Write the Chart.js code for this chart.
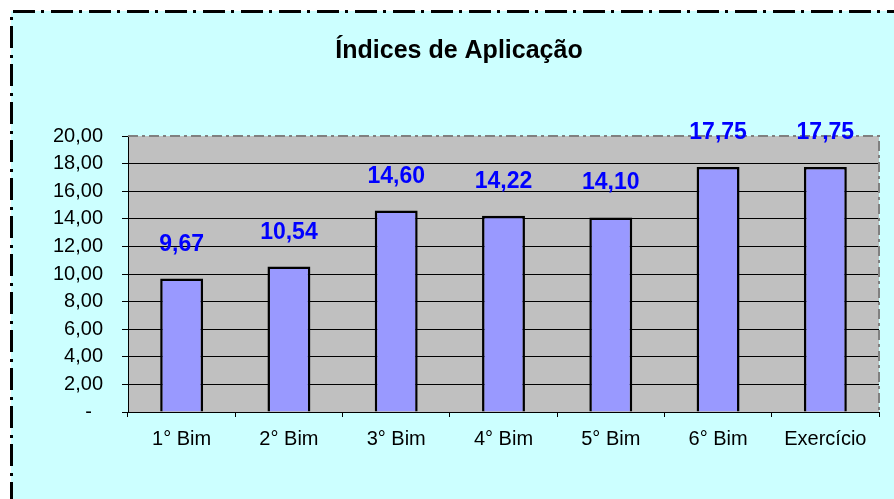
<!DOCTYPE html>
<html lang="pt">
<head>
  <meta charset="UTF-8">
  <title>Índices de Aplicação</title>
  <style>
    body { margin: 0; background: #ffffff; }
    #wrap { width: 894px; height: 499px; }
  </style>
</head>
<body>
  <div id="wrap"><canvas id="chart" width="894" height="499"></canvas></div>

  <script src="https://cdn.jsdelivr.net/npm/chart.js"></script>
  <script>
    // chart data
    const chartTitle = 'Índices de Aplicação';
    const categories = ['1° Bim', '2° Bim', '3° Bim', '4° Bim', '5° Bim', '6° Bim', 'Exercício'];
    const indices = [9.67, 10.54, 14.60, 14.22, 14.10, 17.75, 17.75];
    const yMin = 0;
    const yMax = 20;
    const yStep = 2;

    function fmt(v) {
      return v.toFixed(2).replace('.', ',');
    }

    // cyan background + dash-dot frame, like the Excel chart area
    const framePlugin = {
      id: 'frame',
      beforeDraw(chart) {
        const ctx = chart.ctx;
        ctx.save();
        ctx.fillStyle = '#ffffff';
        ctx.fillRect(0, 0, chart.width, chart.height);
        ctx.fillStyle = '#ccffff';
        ctx.fillRect(11, 11, chart.width, chart.height);
        ctx.strokeStyle = '#000000';
        ctx.lineWidth = 3;
        ctx.setLineDash([22, 6, 3, 7]);
        ctx.beginPath();
        ctx.moveTo(11.5, chart.height + 5);
        ctx.lineTo(11.5, 11.5);
        ctx.lineTo(chart.width + 5, 11.5);
        ctx.stroke();
        // plot area fill
        const a = chart.chartArea;
        ctx.setLineDash([]);
        ctx.fillStyle = '#c0c0c0';
        ctx.fillRect(a.left, a.top, a.right - a.left, a.bottom - a.top);
        // title, centred like the original (a bit right of the canvas middle)
        ctx.font = 'bold 25px "Liberation Sans", Arial, sans-serif';
        ctx.fillStyle = '#000000';
        ctx.textAlign = 'center';
        ctx.textBaseline = 'middle';
        ctx.fillText(chartTitle, 459, 51);
        ctx.restore();
      },
      beforeDatasetsDraw(chart) {
        // gray dash-dot border on top and right of the plot area
        const ctx = chart.ctx;
        const a = chart.chartArea;
        ctx.save();
        ctx.strokeStyle = '#808080';
        ctx.lineWidth = 2;
        ctx.setLineDash([10, 4, 3, 4]);
        ctx.beginPath();
        ctx.moveTo(a.left, a.top);
        ctx.lineTo(a.right, a.top);
        ctx.lineTo(a.right, a.bottom);
        ctx.stroke();
        ctx.restore();
      }
    };

    // value labels above the bars
    const valueLabels = {
      id: 'valueLabels',
      afterDatasetsDraw(chart) {
        const ctx = chart.ctx;
        const meta = chart.getDatasetMeta(0);
        ctx.save();
        ctx.font = 'bold 23px "Liberation Sans", Arial, sans-serif';
        ctx.fillStyle = '#0000ff';
        ctx.textAlign = 'center';
        ctx.textBaseline = 'alphabetic';
        meta.data.forEach((bar, i) => {
          ctx.fillText(fmt(indices[i]), bar.x, bar.y - 28);
        });
        ctx.restore();
      }
    };

    Chart.defaults.font.family = '"Liberation Sans", Arial, sans-serif';
    Chart.defaults.color = '#000000';

    new Chart(document.getElementById('chart'), {
      type: 'bar',
      data: {
        labels: categories,
        datasets: [{
          data: indices,
          backgroundColor: '#9999ff',
          borderColor: '#000000',
          borderWidth: 2.5,
          barPercentage: 0.4,
          categoryPercentage: 1
        }]
      },
      options: {
        responsive: false,
        animation: false,
        layout: { padding: { left: 0, right: 15, top: 136, bottom: 0 } },
        plugins: {
          legend: { display: false },
          tooltip: { enabled: false },
          title: { display: false }
        },
        scales: {
          x: {
            afterFit(scale) { scale.height = 87; },
            grid: {
              offset: true,
              drawOnChartArea: false,
              tickLength: 5,
              color: '#000000'
            },
            border: { display: true, color: '#000000', width: 1 },
            ticks: {
              font: { size: 20 },
              color: '#000000',
              padding: 10,
              maxRotation: 0
            }
          },
          y: {
            min: yMin,
            max: yMax,
            afterFit(scale) { scale.width = 128; },
            grid: {
              color: (c) => (c.tick && c.tick.value === yMax ? 'rgba(0,0,0,0)' : '#000000'),
              tickColor: '#000000',
              tickLength: 6,
              lineWidth: 1
            },
            border: { display: true, color: '#000000', width: 1 },
            ticks: {
              stepSize: yStep,
              font: { size: 20 },
              color: '#000000',
              padding: 19,
              callback: (v) => (v === 0 ? '-  ' : fmt(v))
            }
          }
        }
      },
      plugins: [framePlugin, valueLabels]
    });
  </script>
</body>
</html>
